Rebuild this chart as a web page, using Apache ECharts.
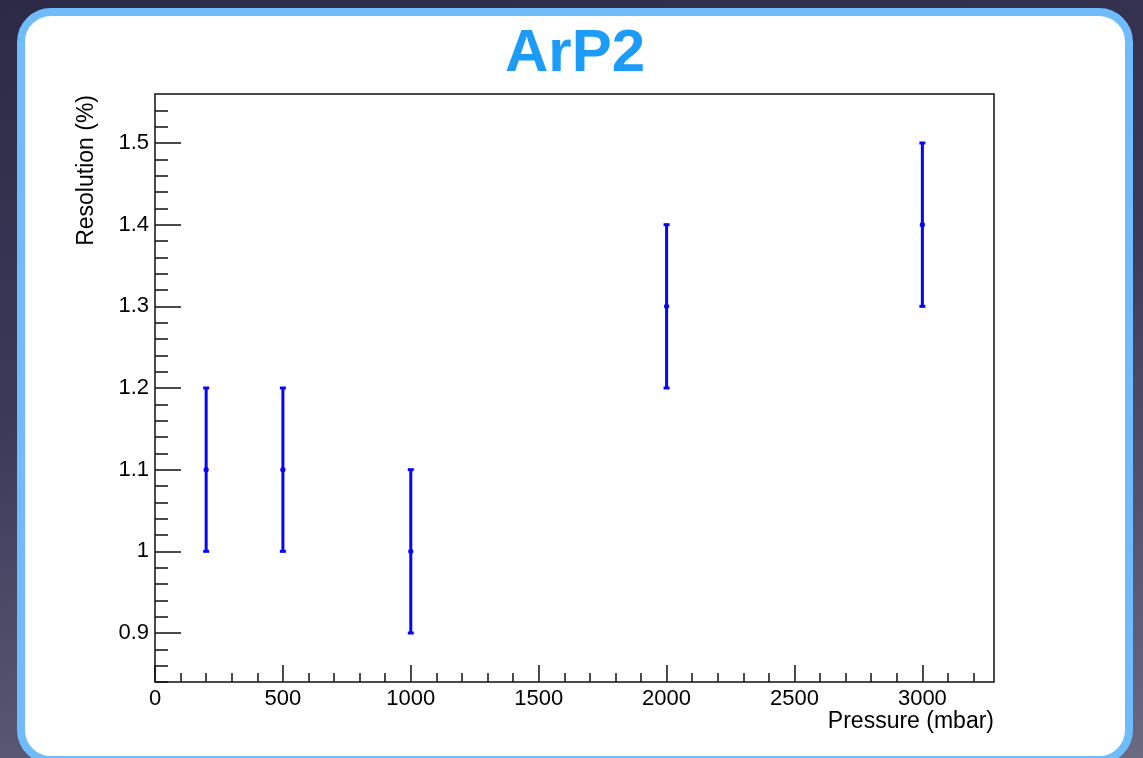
<!DOCTYPE html>
<html>
<head>
<meta charset="utf-8">
<script src="https://cdn.jsdelivr.net/npm/echarts@6/dist/echarts.min.js"></script>
<style>
  html, body { margin: 0; padding: 0; }
  body {
    width: 1143px; height: 758px; overflow: hidden; position: relative;
    background: linear-gradient(170deg, #2c2a46 0%, #3c3a59 45%, #6a6982 100%);
  }
  /* white card with the light blue rim */
  #card {
    position: absolute; left: 17px; top: 8px; width: 1100px; height: 740px;
    border: 8px solid #6fbcfa; border-radius: 34px; background: #fff;
  }
  #chart { position: absolute; left: 0; top: 0; width: 1143px; height: 758px; }
</style>
</head>
<body>
<div id="card"></div>
<div id="chart"></div>
<script>
  // data
  var pressure = [200, 500, 1000, 2000, 3000]
  var resolution = [1.1, 1.1, 1.0, 1.3, 1.4]
  var resError = [0.1, 0.1, 0.1, 0.1, 0.1]

  // ticks (ROOT style: long major, short minor, pointing inward)
  var xMajorTicks = [0, 500, 1000, 1500, 2000, 2500, 3000]
  var xMinorTicks = [100, 200, 300, 400, 600, 700, 800, 900, 1100, 1200, 1300, 1400,
    1600, 1700, 1800, 1900, 2100, 2200, 2300, 2400, 2600, 2700, 2800, 2900, 3100, 3200]
  var yMajorTicks = [0.9, 1.0, 1.1, 1.2, 1.3, 1.4, 1.5]
  var yMinorTicks = [0.84, 0.86, 0.88, 0.92, 0.94, 0.96, 0.98, 1.02, 1.04, 1.06, 1.08,
    1.12, 1.14, 1.16, 1.18, 1.22, 1.24, 1.26, 1.28, 1.32, 1.34, 1.36, 1.38,
    1.42, 1.44, 1.46, 1.48, 1.52, 1.54]

  var points = pressure.map(function (p, i) {
    return [p, resolution[i], resError[i]]
  })

  var tickFont = { fontFamily: 'Liberation Sans', fontSize: 22, color: '#000' }
  var nameFont = { fontFamily: 'Liberation Sans', fontSize: 23, color: '#000' }
  var tickLine = { color: '#111', width: 1.5 }

  var myChart = echarts.init(document.getElementById('chart'))
  myChart.setOption({
    animation: false,
    title: {
      text: 'ArP2',
      left: 570,
      top: 19,
      textAlign: 'center',
      textStyle: { fontFamily: 'Liberation Sans', fontWeight: 'bold', fontSize: 60, color: '#1d9bf9' }
    },
    grid: {
      left: 155, top: 94, right: 149, bottom: 76,
      show: true, borderColor: '#111', borderWidth: 1.5,
      outerBoundsMode: 'none'
    },
    xAxis: [
      {
        type: 'value', min: 0, max: 3280,
        name: 'Pressure (mbar)',
        nameLocation: 'end', nameGap: 0, nameMoveOverlap: false,
        nameTextStyle: Object.assign({}, nameFont, { align: 'right', verticalAlign: 'top', padding: [28, 0, 0, 0] }),
        axisLine: { show: false },
        splitLine: { show: false },
        axisTick: { inside: true, length: 17, lineStyle: tickLine, customValues: xMajorTicks },
        axisLabel: Object.assign({}, tickFont, {
          margin: 6, customValues: xMajorTicks,
          formatter: function (v) { return String(v) }
        })
      },
      {
        type: 'value', min: 0, max: 3280, position: 'bottom',
        axisLine: { show: false },
        splitLine: { show: false },
        axisLabel: { show: false },
        axisTick: { inside: true, length: 9, lineStyle: tickLine, customValues: xMinorTicks }
      }
    ],
    yAxis: [
      {
        type: 'value', min: 0.84, max: 1.56, position: 'left',
        name: 'Resolution (%)',
        nameLocation: 'end', nameGap: -1, nameRotate: 90, nameMoveOverlap: false,
        nameTextStyle: Object.assign({}, nameFont, { align: 'right', verticalAlign: 'bottom', padding: [0, 0, 57, 0] }),
        axisLine: { show: false },
        splitLine: { show: false },
        axisTick: { inside: true, length: 26, lineStyle: tickLine, customValues: yMajorTicks },
        axisLabel: Object.assign({}, tickFont, {
          margin: 6, customValues: yMajorTicks,
          formatter: function (v) { return String(Math.round(v * 10) / 10) }
        })
      },
      {
        type: 'value', min: 0.84, max: 1.56, position: 'left',
        axisLine: { show: false },
        splitLine: { show: false },
        axisLabel: { show: false },
        axisTick: { inside: true, length: 13, lineStyle: tickLine, customValues: yMinorTicks }
      }
    ],
    series: [
      {
        type: 'custom',
        data: points,
        encode: { x: 0, y: 1 },
        renderItem: function (params, api) {
          var x = api.value(0), y = api.value(1), e = api.value(2)
          var hi = api.coord([x, y + e])
          var lo = api.coord([x, y - e])
          var mid = api.coord([x, y])
          var blue = '#0606f7'
          return {
            type: 'group',
            children: [
              { type: 'line', shape: { x1: hi[0], y1: hi[1], x2: lo[0], y2: lo[1] }, style: { stroke: blue, lineWidth: 3 } },
              { type: 'line', shape: { x1: hi[0] - 3, y1: hi[1], x2: hi[0] + 3, y2: hi[1] }, style: { stroke: blue, lineWidth: 3 } },
              { type: 'line', shape: { x1: lo[0] - 3, y1: lo[1], x2: lo[0] + 3, y2: lo[1] }, style: { stroke: blue, lineWidth: 3 } },
              { type: 'circle', shape: { cx: mid[0], cy: mid[1], r: 2.6 }, style: { fill: blue } }
            ]
          }
        }
      }
    ]
  })
</script>
</body>
</html>
